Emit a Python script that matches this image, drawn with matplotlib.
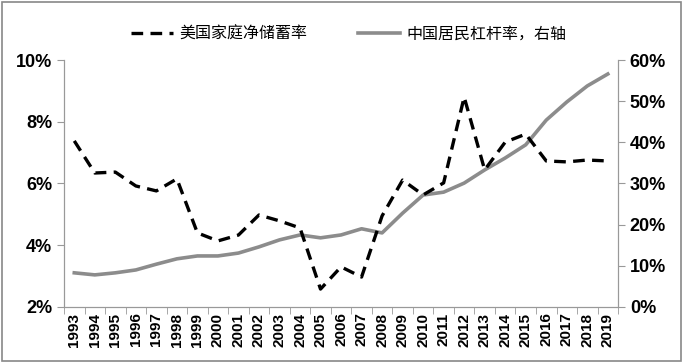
import matplotlib.pyplot as plt
from matplotlib.patches import Rectangle
import numpy as np

plt.rcParams['font.family'] = ['Noto Sans CJK SC', 'DejaVu Sans']

years = list(range(1993, 2020))
us_saving = [7.38, 6.34, 6.37, 5.92, 5.76, 6.15, 4.40, 4.14, 4.33, 4.98, 4.79, 4.56, 2.58,
             3.30, 2.97, 4.95, 6.11, 5.63, 6.02, 8.80, 6.44, 7.34, 7.60, 6.73, 6.70, 6.76, 6.73]
cn_leverage = [8.3, 7.8, 8.3, 9.0, 10.4, 11.7, 12.4, 12.4, 13.1, 14.6, 16.3, 17.5, 16.8,
               17.5, 19.0, 18.0, 22.8, 27.2, 27.9, 30.1, 33.3, 36.2, 39.4, 45.4, 49.8, 53.7, 56.6]
labels = ['美国家庭净储蓄率', '中国居民杠杆率，右轴']

fig = plt.figure(figsize=(6.84, 3.63), dpi=100)
ax = fig.add_axes([0.0936, 0.1543, 0.81, 0.6804])
ax2 = ax.twinx()

x = np.arange(len(years))
l2, = ax2.plot(x, cn_leverage, color='#8c8c8c', lw=2.6, label=labels[1])
l1, = ax.plot(x, us_saving, color='black', lw=2.4, ls=(0, (3.5, 2.2)), label=labels[0])
ax.set_zorder(ax2.get_zorder() + 1)
ax.patch.set_visible(False)

num_font = ['Liberation Sans Narrow', 'Liberation Sans', 'DejaVu Sans']

ax.set_xlim(-0.5, len(years) - 0.5)
ax.set_ylim(2, 10)
ax.set_yticks([2, 4, 6, 8, 10])
ax.set_yticklabels([f'{v}%' for v in [2, 4, 6, 8, 10]])
ax2.set_ylim(0, 60)
ax2.set_yticks(range(0, 61, 10))
ax2.set_yticklabels([f'{v}%' for v in range(0, 61, 10)])

ax.set_xticks(x)
ax.set_xticklabels([str(y) for y in years], rotation=90, fontweight='bold', fontsize=11,
                   family=num_font)
ax.set_xticks(np.arange(-0.5, len(years), 1), minor=True)
ax.tick_params(axis='x', which='major', length=0, pad=4)
ax.tick_params(axis='x', which='minor', length=5, color='#999999')

for a in (ax, ax2):
    for s in a.spines.values():
        s.set_color('#999999')
    a.spines['top'].set_visible(False)
    a.tick_params(axis='y', length=5, color='#999999', labelsize=13)
for t in ax.get_yticklabels() + ax2.get_yticklabels():
    t.set_fontweight('bold')
    t.set_family(num_font)

fig.legend(handles=[l1, l2], labels=labels, loc='center', bbox_to_anchor=(0.51, 0.905),
           ncol=2, frameon=False, fontsize=11.5, handlelength=2.6, handletextpad=0.4,
           columnspacing=3.2)

fig.patches.append(Rectangle((0.003, 0.005), 0.992, 0.99, transform=fig.transFigure,
                             fill=False, edgecolor='#888888', lw=1.2))

fig.savefig('out.png', dpi=100)
